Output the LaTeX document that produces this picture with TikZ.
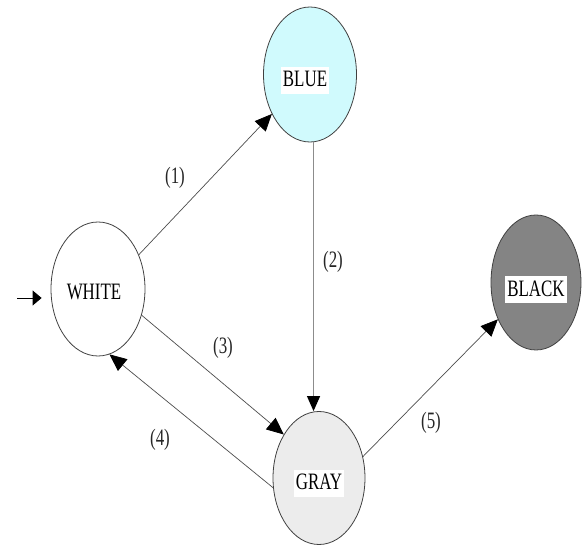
\documentclass[tikz,border=0pt]{standalone}
\usepackage{fontspec}
\newfontfamily\lblfont[FakeStretch=0.72]{Liberation Serif}
\usetikzlibrary{shapes.geometric,arrows.meta}
\definecolor{whitefill}{RGB}{255,255,255}
\definecolor{bluefill}{RGB}{208,250,253}
\definecolor{blackfill}{RGB}{132,132,132}
\definecolor{grayfill}{RGB}{236,236,236}
\begin{document}
\begin{tikzpicture}[x=1pt,y=-1pt,
  state/.style={ellipse, draw=black!75, line width=0.8pt, inner sep=0pt},
  lbl/.style={fill=white, inner xsep=2pt, inner ysep=0pt, text height=20pt, text depth=7pt,
    font=\lblfont\fontsize{23.5}{26}\selectfont, text=black, anchor=base},
  elbl/.style={font=\lblfont\fontsize{23.5}{26}\selectfont, text=black!85, inner sep=0pt},
  edge/.style={draw=black!70, line width=0.7pt, -{Triangle[length=17pt,width=15pt,color=black]}},
  vedge/.style={draw=black!45, line width=1.1pt, -{Triangle[length=15pt,width=13pt,color=black]}},
  initedge/.style={draw=black, line width=0.9pt, -{Triangle[length=9pt,width=15pt,color=black]}},
]
\useasboundingbox (0,0) rectangle (582,545);

\node[state, fill=whitefill, minimum width=94pt, minimum height=134pt] (white) at (98,289) {};
\node[state, fill=bluefill, minimum width=93pt, minimum height=135pt] (blue) at (310,74.5) {};
\node[state, fill=blackfill, minimum width=90pt, minimum height=135pt] (black) at (536,282.5) {};
\node[state, fill=grayfill, minimum width=92pt, minimum height=133pt] (gray) at (319,478) {};

\node[lbl] (wl) at (94,300) {WHITE};
\node[lbl] (bl) at (305,87) {BLUE};
\node[lbl] (kl) at (536,296.5) {BLACK};
\node[lbl] (gl) at (319,490) {GRAY};

\coordinate (init) at (17,298);
\draw[initedge, shorten >=9pt] (init) -- (init -| white.west);

\draw[edge] (white.40) -- (blue.226);
\draw[vedge] (blue.273) -- (blue.273 |- gray.north);
\draw[edge] (white.-31) -- (gray.129);
\draw[edge] (gray.192) -- (white.280);
\draw[edge] (gray.26) -- (black.224);

\node[elbl] (l1) at (175,178) {(1)};
\node[elbl] (l2) at (333,262) {(2)};
\node[elbl] (l3) at (223,348) {(3)};
\node[elbl] (l4) at (160,440) {(4)};
\node[elbl] (l5) at (431,423) {(5)};
\end{tikzpicture}
\end{document}
